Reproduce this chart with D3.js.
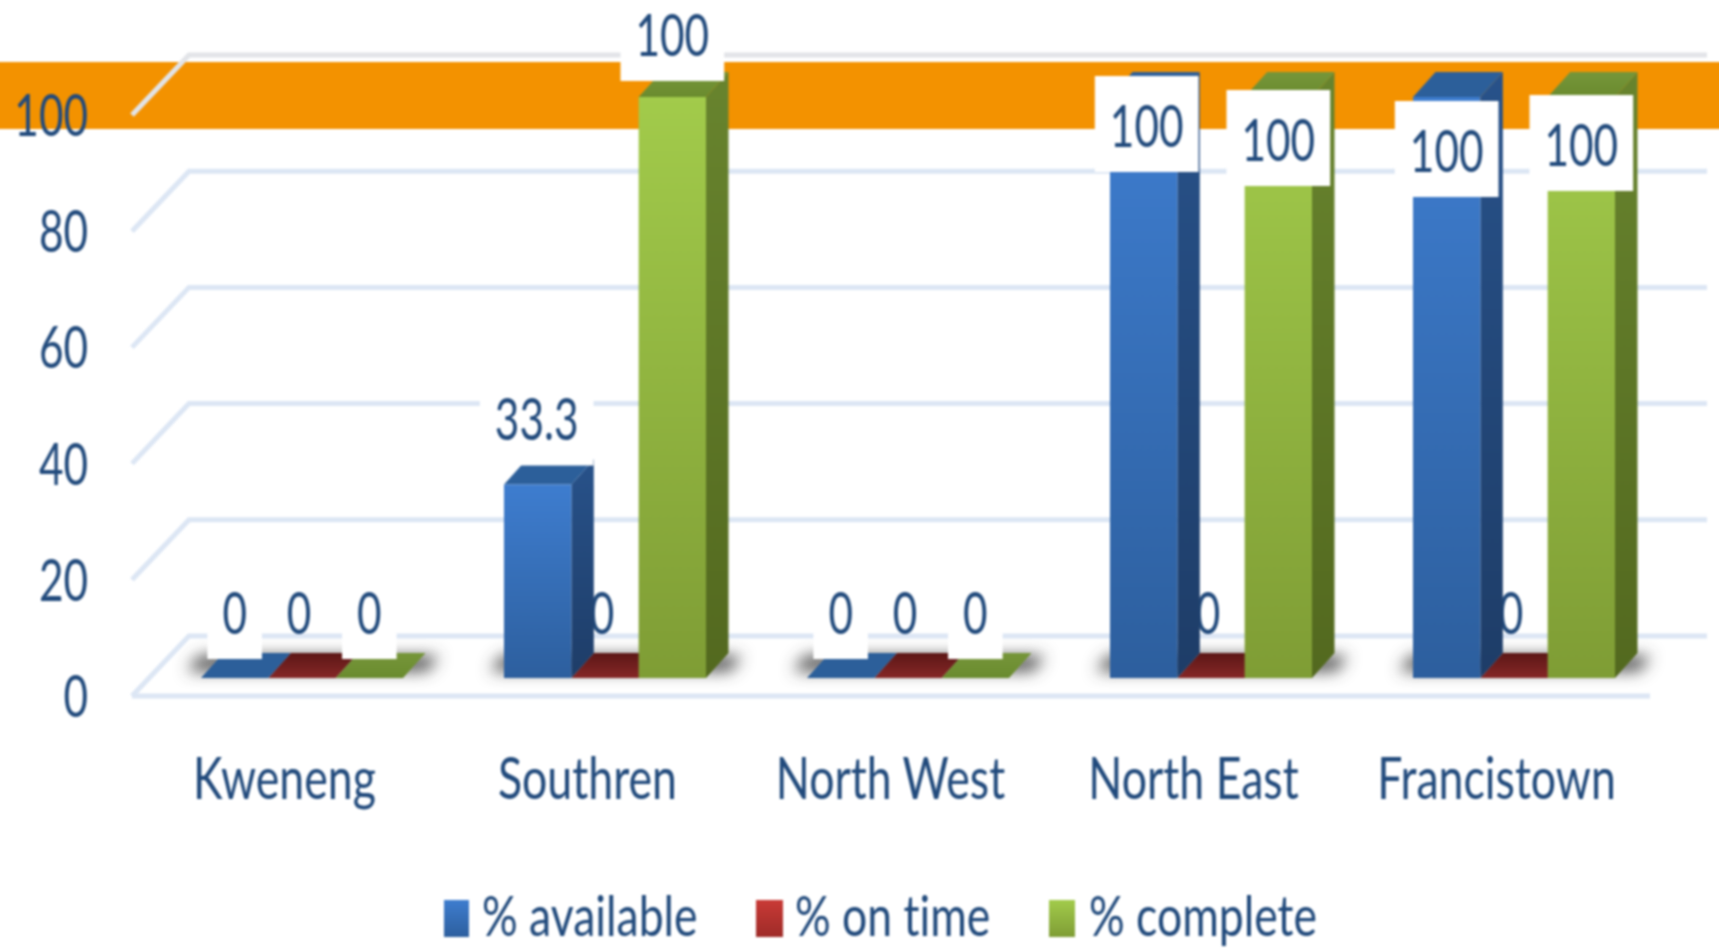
<!DOCTYPE html>
<html>
<head>
<meta charset="utf-8">
<script src="https://cdn.jsdelivr.net/npm/d3@7"></script>
<style>
  html, body { margin: 0; padding: 0; background: #fff; overflow: hidden; }
  svg { display: block; overflow: visible; filter: blur(0.8px); }
  text { font-family: Lato, "Open Sans", sans-serif; fill: #214a7c; font-variant-ligatures: none; }
</style>
</head>
<body>
<svg id="chart" width="1719" height="949"></svg>
<script>
const categories = ["Kweneng", "Southren", "North West", "North East", "Francistown"];
const seriesNames = ["% available", "% on time", "% complete"];
const available = [0, 33.3, 0, 100, 100];
const onTime = [0, 0, 0, 0, 0];
const complete = [0, 100, 0, 100, 100];
const yTicks = [0, 20, 40, 60, 80, 100];

const allSeries = [available, onTime, complete];

// labels that were dragged down by hand in the original, px below the default spot
const availableDrag = [0, 0, 0, 94, 119];
const completeDrag = [0, 3, 0, 108, 113];
const labelDrag = [availableDrag, onTime.map(() => 0), completeDrag];
const labelSlide = [[0, -1, 0, 3, 0], [-3, -3, -3, -3, -3], [0, 0, 0, 0, 0]];

const fontSize = 58;
const squeeze = 0.77;      // text in the picture is stretched tall, so narrow it
const numberSqueeze = 0.73;
const depthX = 22.5, depthY = 25, floorLift = 18, backLiftX = 57, backLiftY = 60;

const svg = d3.select("#chart");
const defs = svg.append("defs");

function gradient(id, top, bottom) {
    let g = defs.append("linearGradient").attr("id", id)
        .attr("x1", 0).attr("y1", 0).attr("x2", 0).attr("y2", 1);
    g.append("stop").attr("offset", "0%").attr("stop-color", top);
    g.append("stop").attr("offset", "100%").attr("stop-color", bottom);
}
// colours per series: front, side, top face
const looks = [
    { front: ["#3e7dcf", "#2d5f9e"], side: ["#28528a", "#1e3d68"], top: ["#2c5f9a", "#2c5f9a"] },
    { front: ["#c93a36", "#9e2b28"], side: ["#6e1c1a", "#5e1817"], top: ["#5c1716", "#862727"] },
    { front: ["#a2cb4b", "#7f9d35"], side: ["#68842e", "#53691f"], top: ["#76963a", "#6a8b2e"] }
];
looks.forEach((l, i) => {
    gradient("front" + i, l.front[0], l.front[1]);
    gradient("side" + i, l.side[0], l.side[1]);
    gradient("top" + i, l.top[0], l.top[1]);
});
defs.append("filter").attr("id", "soft")
    .attr("x", "-30%").attr("y", "-150%").attr("width", "160%").attr("height", "400%")
    .append("feGaussianBlur").attr("stdDeviation", 8);

const x0 = d3.scaleBand().domain(categories).range([133, 1648]);
const x1 = d3.scaleBand().domain(d3.range(seriesNames.length)).range([0, 202]);
const y = d3.scaleLinear().domain([0, 100]).range([696, 115]);
const groupLeft = c => x0(c) + 68;

function squeezeText(sel, k) {
    sel.each(function() {
        let t = d3.select(this);
        t.attr("lengthAdjust", "spacingAndGlyphs")
            .attr("textLength", this.getComputedTextLength() * k);
    });
}

// orange band across the page, runs past the edges so the blur does not fade it
svg.append("rect").attr("x", -20).attr("y", 62).attr("width", 1760).attr("height", 67)
    .attr("fill", "#f39200");

// soft shadows on the floor
svg.append("g").selectAll("path").data(categories).join("path")
    .attr("filter", "url(#soft)")
    .attr("fill", "#4a4a4a")
    .attr("d", c => {
        let left = groupLeft(c) - 14, right = groupLeft(c) + 202 + 36;
        let front = y(0) - floorLift - 7, back = y(0) - floorLift - depthY + 3;
        return "M" + left + "," + front + "L" + (left + 12) + "," + back
            + "H" + right + "L" + (right - 12) + "," + front + "Z";
    });

// walls and floor
const grid = svg.append("g").attr("fill", "none").attr("stroke-width", 5);
grid.selectAll("path").data(yTicks).join("path")
    .attr("stroke", d => d === 100 ? "#e2e4e8" : "#dce6f4")
    .attr("d", d => "M132," + y(d) + "L" + (132 + backLiftX) + "," + (y(d) - backLiftY) + "H1707");
grid.append("line").attr("x1", 132).attr("x2", 1650).attr("y1", y(0)).attr("y2", y(0))
    .attr("stroke", "#dce6f4");

const labelPoint = (c, s) => {
    let i = categories.indexOf(c);
    let val = allSeries[s][i];
    return {
        x: groupLeft(c) + x1(s) + x1.bandwidth() / 2 + labelSlide[s][i],
        y: y(val) - floorLift - 65 + labelDrag[s][i],
        val: val
    };
};

function drawLabels(layer, s, withBox) {
    let g = layer.selectAll("g").data(categories).join("g")
        .attr("transform", c => { let p = labelPoint(c, s); return "translate(" + p.x + "," + p.y + ")"; });
    let box = withBox ? g.append("rect").attr("fill", "#fff") : null;
    let txt = g.append("text")
        .attr("text-anchor", "middle")
        .attr("dy", "0.36em")
        .attr("font-size", fontSize)
        .text(c => labelPoint(c, s).val);
    squeezeText(txt, numberSqueeze);
    if (box) {
        box.each(function(c) {
            let len = d3.select(this.parentNode).select("text").attr("textLength");
            let w = +len + 30;
            d3.select(this).attr("x", -w / 2).attr("width", w).attr("y", -50).attr("height", 96);
        });
    }
}

// on-time labels sit behind the bars in the picture
drawLabels(svg.append("g"), 1, false);

// bars: red first because its floor runs under its neighbours
[1, 0, 2].forEach(s => {
    let g = svg.append("g").selectAll("g").data(categories).join("g")
        .datum((c, i) => ({ c: c, v: allSeries[s][i] }));
    let left = d => groupLeft(d.c) + x1(s);
    let w = x1.bandwidth();
    let top = d => y(d.v) - floorLift;
    let base = y(0) - floorLift;
    g.append("path").attr("fill", "url(#side" + s + ")")
        .attr("d", d => d.v === 0 ? null : "M" + (left(d) + w) + "," + top(d)
            + "l" + depthX + "," + (-depthY)
            + "V" + (base - depthY) + "L" + (left(d) + w) + "," + base + "Z");
    g.append("path").attr("fill", "url(#top" + s + ")")
        .attr("d", d => "M" + left(d) + "," + top(d)
            + "l" + depthX + "," + (-depthY) + "h" + w + "l" + (-depthX) + "," + depthY + "Z");
    g.append("rect").attr("fill", "url(#front" + s + ")")
        .attr("x", left).attr("width", w)
        .attr("y", top).attr("height", d => base - top(d));
});

drawLabels(svg.append("g"), 0, true);
drawLabels(svg.append("g"), 2, true);

// axes
const yAxis = svg.append("g").attr("transform", "translate(88,2)")
    .call(d3.axisLeft(y).tickValues(yTicks).tickSize(0).tickPadding(0));
yAxis.select(".domain").remove();
yAxis.selectAll("text").attr("font-size", fontSize).attr("fill", null)
    .call(squeezeText, numberSqueeze);

const xAxis = svg.append("g").attr("transform", "translate(0," + y(0) + ")")
    .call(d3.axisBottom(x0).tickSize(0).tickPadding(0));
xAxis.select(".domain").remove();
xAxis.selectAll("text").attr("font-size", fontSize).attr("fill", null)
    .attr("y", 62).call(squeezeText, squeeze);

// legend
const legendSpots = [
    { box: 444, boxW: 25, text: 482 },
    { box: 756, boxW: 27, text: 795 },
    { box: 1049, boxW: 26, text: 1089 }
];
const legend = svg.append("g").selectAll("g").data(seriesNames).join("g");
legend.append("rect")
    .attr("x", (d, i) => legendSpots[i].box).attr("width", (d, i) => legendSpots[i].boxW)
    .attr("y", 900).attr("height", 37)
    .attr("fill", (d, i) => "url(#front" + i + ")");
legend.append("text")
    .attr("x", (d, i) => legendSpots[i].text).attr("y", 936)
    .attr("font-size", 56)
    .text(d => d)
    .call(squeezeText, 0.795);
</script>
</body>
</html>
